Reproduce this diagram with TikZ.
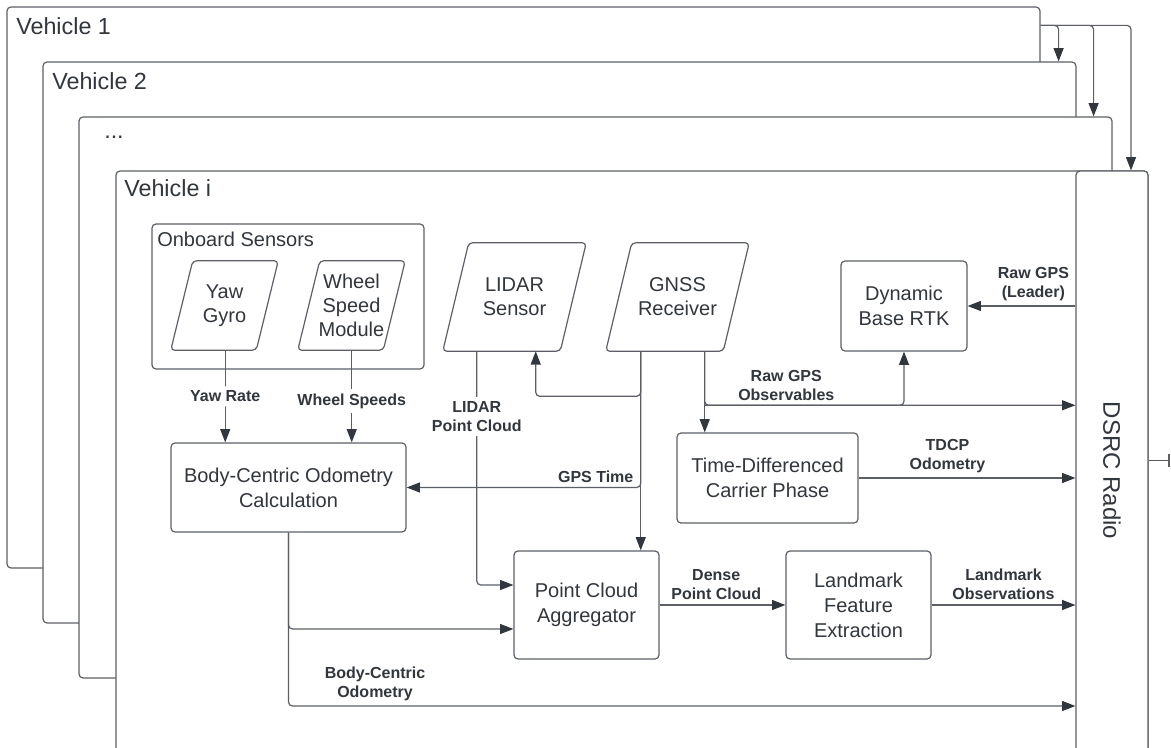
\documentclass[tikz,border=0pt]{standalone}
\usepackage{fontspec}
\setmainfont{Liberation Sans}
\usetikzlibrary{arrows.meta,calc}

\definecolor{linecol}{RGB}{92,96,102}
\definecolor{textcol}{RGB}{50,54,61}

\tikzset{
    frame/.style={rectangle, draw=linecol, fill=white, rounded corners=3pt, line width=0.9pt, inner sep=0pt},
    box/.style={rectangle, draw=linecol, fill=white, rounded corners=3pt, line width=0.9pt, align=center, text=textcol, font=\fontsize{15}{18.75}\selectfont},
    sensor/.style={rectangle, inner sep=0pt, align=center, text=textcol, font=\fontsize{15}{18}\selectfont},
    sensor edge/.style={draw=linecol, rounded corners=3pt, line width=0.9pt},
    title/.style={anchor=base west, inner sep=0pt, text=textcol, font=\fontsize{17.5}{21}\selectfont},
    lbl/.style={align=center, text=textcol, font=\bfseries\fontsize{12}{14.25}\selectfont},
    flow/.style={draw=linecol, line width=0.9pt, rounded corners=3pt, -{Triangle[length=10pt, width=7.5pt, color=textcol]}},
}

\begin{document}
\begin{tikzpicture}[x=0.75pt, y=-0.75pt]

    \clip (0,0) rectangle (1171,748);

    \node(vehicle-1)[frame, minimum width=774.75pt, minimum height=420.75pt] at (523.5,287.5) {};
    \node(vehicle-2)[frame, minimum width=774.75pt, minimum height=420.75pt] at (559.5,342.5) {};
    \node(vehicle-dots)[frame, minimum width=774.75pt, minimum height=420.75pt] at (595.5,397.5) {};
    \node(vehicle-i)[frame, minimum width=774pt, minimum height=449.25pt] at (632,470.5) {};

    \node(vehicle-1-title)[title] at (16,35) {Vehicle 1};
    \node(vehicle-2-title)[title] at (52,90) {Vehicle 2};
    \node(vehicle-dots-title)[title] at (104,139) {...};
    \node(vehicle-i-title)[title] at (124,197) {Vehicle i};

    \node(onboard)[frame, minimum width=204pt, minimum height=108.75pt] at (288,296.5) {};
    \node(onboard-title)[title, font=\fontsize{15}{18}\selectfont] at (157,247) {Onboard Sensors};

    \node(yaw-gyro)[sensor, minimum width=80.25pt, minimum height=66.75pt] at (224.5,305.5) {Yaw\\Gyro};
    \node(wheel-speed)[sensor, minimum width=80.25pt, minimum height=66.75pt] at (351.5,305.5) {Wheel\\Speed\\Module};
    \node(lidar)[sensor, minimum width=107.25pt, minimum height=81pt] at (514.5,297) {LIDAR\\Sensor};
    \node(gnss)[sensor, minimum width=107.25pt, minimum height=81pt] at (677.5,297) {GNSS\\Receiver};

    \foreach \s/\d in {yaw-gyro/22, wheel-speed/22, lidar/26, gnss/26}
        \draw[sensor edge] (\s.south west) -- ($(\s.north west)+(\d,0)$) -- (\s.north east) -- ($(\s.south east)+(-\d,0)$) -- cycle;

    \node(rtk)[box, minimum width=94.5pt, minimum height=67.5pt] at (904,306) {Dynamic\\Base RTK};
    \node(odom)[box, minimum width=176.25pt, minimum height=66.75pt] at (288.5,487.5) {Body-Centric Odometry\\Calculation};
    \node(tdcp)[box, minimum width=135.75pt, minimum height=67.5pt] at (767.5,478) {Time-Differenced\\Carrier Phase};
    \node(aggregator)[box, minimum width=108.75pt, minimum height=81pt] at (586.5,605) {Point Cloud\\Aggregator};
    \node(landmark)[box, minimum width=108.75pt, minimum height=81pt] at (858.5,605) {Landmark\\Feature\\Extraction};
    \node(dsrc)[box, minimum width=54pt, minimum height=449.25pt, font=\fontsize{18}{21}\selectfont] at (1112,470.5) {\rotatebox{-90}{DSRC Radio}};

    \coordinate(yaw-out) at ($(yaw-gyro.south west)+(54.5,0)$);
    \coordinate(wheel-out) at ($(wheel-speed.south west)+(54,0)$);
    \coordinate(lidar-out) at ($(lidar.south west)+(34,0)$);
    \coordinate(lidar-in) at ($(lidar.south west)+(93,0)$);
    \coordinate(gnss-time) at ($(gnss.south west)+(35,0)$);
    \coordinate(gnss-raw) at ($(gnss.south west)+(99,0)$);
    \coordinate(raw-split) at ($(gnss-raw)+(0,54)$);
    \coordinate(odom-fuse) at ($(aggregator.west)+(0,24)$);
    \coordinate(lidar-fuse) at ($(aggregator.west)+(0,-20)$);
    \coordinate(odom-send) at ($(dsrc.west)+(0,235.5)$);
    \coordinate(radio-bus) at ($(vehicle-1.north east)+(0,19)$);
    \coordinate(radio-out) at ($(dsrc.east)+(21,-10)$);

    \draw[flow] (radio-bus) -| ($(dsrc.north)+(19,0)$);
    \draw[flow] (radio-bus) -| ($(vehicle-2.north east)+(-18,0)$);
    \draw[flow] (radio-bus) -| ($(vehicle-dots.north east)+(-19,0)$);
    \draw[draw=linecol, line width=0.9pt, -{Bar[width=9pt]}] (dsrc.east |- radio-out) -- (radio-out);

    \draw[flow] (yaw-out) --node[lbl, fill=white]{Yaw Rate} (yaw-out |- odom.north);
    \draw[flow] (wheel-out) --node[lbl, fill=white, pos=0.55]{Wheel Speeds} (wheel-out |- odom.north);
    \draw[flow] (lidar-out) |-node[lbl, fill=white, pos=0.14]{LIDAR\\Point Cloud} (lidar-fuse);
    \draw[flow] (gnss-time) -- ++(0,45) -| (lidar-in);
    \draw[flow] (gnss-time) |-node[lbl, pos=0.505, above left]{GPS Time} (odom.east);
    \draw[flow] (gnss-time) -- (gnss-time |- aggregator.north);
    \draw[flow] (gnss-raw) -- (gnss-raw |- tdcp.north);
    \draw[flow] (gnss-raw) |-node[lbl, pos=0.61, above]{Raw GPS\\Observables} (raw-split -| dsrc.west);
    \draw[flow] (raw-split) -| (rtk.south);
    \draw[flow] (dsrc.west |- rtk.east) --node[lbl, pos=0.39, above]{Raw GPS\\(Leader)} (rtk.east);
    \draw[flow] (tdcp.east) --node[lbl, pos=0.41, above]{TDCP\\Odometry} (tdcp.east -| dsrc.west);
    \draw[flow] (aggregator.east) --node[lbl, pos=0.45, above]{Dense\\Point Cloud} (landmark.west);
    \draw[flow] (landmark.east) --node[lbl, above]{Landmark\\Observations} (landmark.east -| dsrc.west);
    \draw[flow] (odom.south) |- (odom-fuse);
    \draw[flow] (odom.south) |-node[lbl, pos=0.555, above]{Body-Centric\\Odometry} (odom-send);

\end{tikzpicture}
\end{document}
